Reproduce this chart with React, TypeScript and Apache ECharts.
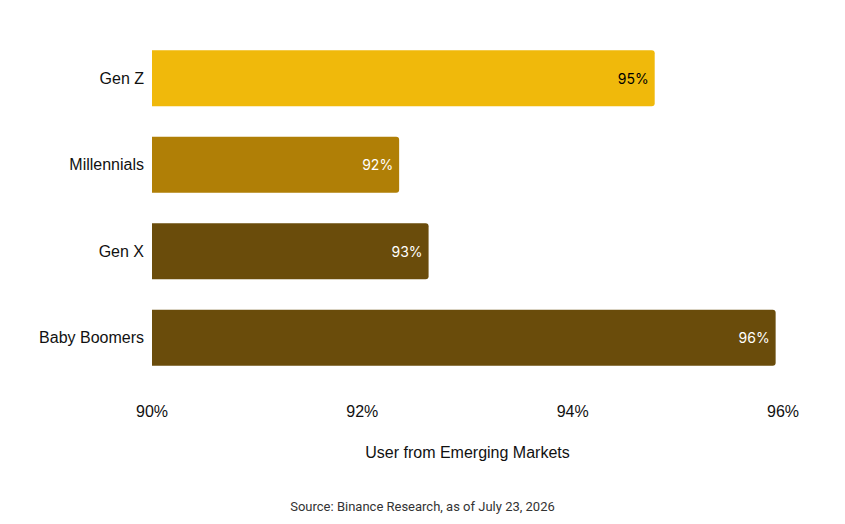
import React, { useEffect, useRef } from "react";
import * as echarts from "echarts";

const categories = ["Gen Z", "Millennials", "Gen X", "Baby Boomers"];
const values = [94.78, 92.35, 92.63, 95.93];
const labels = ["95%", "92%", "93%", "96%"];
const barColors = ["#F0B90B", "#B07F06", "#6A4C0B", "#6A4C0B"];
const labelColors = ["#000000", "#FFFFFF", "#FFFFFF", "#FFFFFF"];

export default function App() {
  const ref = useRef<HTMLDivElement>(null);
  useEffect(() => {
    const chart = echarts.init(ref.current!, null, { renderer: "svg" });
    chart.setOption({
      animation: false,
      grid: { left: 152, right: 62, top: 35, bottom: 143 },
      xAxis: {
        type: "value",
        min: 90,
        max: 96,
        interval: 2,
        name: "User from Emerging Markets",
        nameLocation: "middle",
        nameGap: 63,
        nameTextStyle: { fontFamily: "Liberation Sans", fontSize: 16, color: "#111" },
        axisLine: { show: false },
        axisTick: { show: false },
        splitLine: { show: false },
        axisLabel: {
          formatter: (v: number) => v + "%",
          fontFamily: "Liberation Sans",
          fontSize: 16,
          color: "#111",
          margin: 22,
        },
      },
      yAxis: {
        type: "category",
        data: categories,
        inverse: true,
        axisLine: { show: false },
        axisTick: { show: false },
        axisLabel: {
          fontFamily: "Liberation Sans",
          fontSize: 16,
          color: "#111",
          margin: 8,
        },
      },
      series: [
        {
          type: "bar",
          barWidth: 56,
          data: values.map((v, i) => ({
            value: v,
            itemStyle: { color: barColors[i], borderRadius: [0, 3, 3, 0] },
            label: {
              show: true,
              position: "insideRight",
              distance: 6,
              formatter: () => labels[i],
              color: labelColors[i],
              fontFamily: "Inter",
              fontSize: 14,
            },
          })),
        },
      ],
      graphic: [
        {
          type: "text",
          left: "center",
          top: 500,
          style: {
            text: "Source: Binance Research, as of July 23, 2026",
            fontFamily: "Roboto",
            fontSize: 13,
            fill: "#333",
          },
        },
      ],
    });
    return () => chart.dispose();
  }, []);
  return (
    <div
      ref={ref}
      style={{ position: "absolute", left: 0, top: 0, width: 845, height: 524 }}
    />
  );
}
